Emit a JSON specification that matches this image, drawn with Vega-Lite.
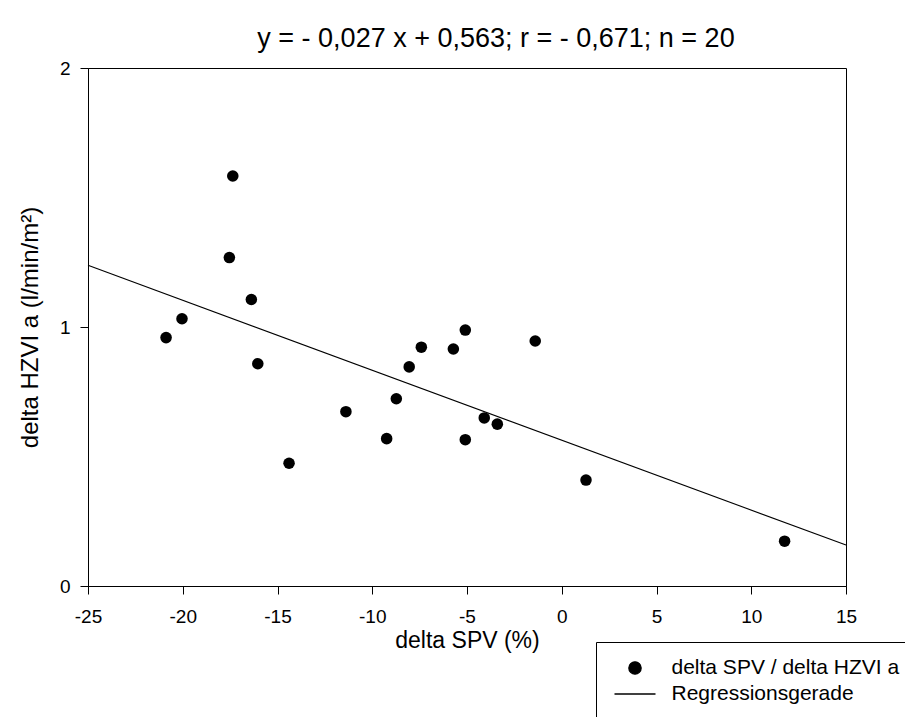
{
  "$schema": "https://vega.github.io/schema/vega-lite/v6.json",
  "width": 758,
  "height": 518,
  "autosize": {"type": "none"},
  "padding": {"left": 88, "top": 68, "right": 59, "bottom": 131},
  "background": "white",
  "title": {
    "text": "y = - 0,027 x + 0,563; r = - 0,671; n = 20",
    "font": "Liberation Sans",
    "fontSize": 27,
    "fontWeight": "normal",
    "color": "black",
    "anchor": "middle",
    "dx": 29,
    "offset": 6
  },
  "config": {
    "view": {"stroke": "black", "strokeWidth": 1},
    "axis": {
      "grid": false,
      "domainColor": "black",
      "tickColor": "black",
      "tickSize": 8,
      "labelFont": "Liberation Sans",
      "labelFontSize": 19,
      "labelColor": "black",
      "labelFlush": false,
      "labelExpr": "'' + datum.value",
      "titleFont": "Liberation Sans",
      "titleFontSize": 23,
      "titleFontWeight": "normal",
      "titleColor": "black"
    }
  },
  "datasets": {
    "messwerte": [
      {"spv": -20.88, "hzvi": 0.959, "reihe": "delta SPV / delta HZVI a"},
      {"spv": -20.04, "hzvi": 1.032, "reihe": "delta SPV / delta HZVI a"},
      {"spv": -17.36, "hzvi": 1.583, "reihe": "delta SPV / delta HZVI a"},
      {"spv": -17.54, "hzvi": 1.268, "reihe": "delta SPV / delta HZVI a"},
      {"spv": -16.38, "hzvi": 1.106, "reihe": "delta SPV / delta HZVI a"},
      {"spv": -16.04, "hzvi": 0.858, "reihe": "delta SPV / delta HZVI a"},
      {"spv": -14.39, "hzvi": 0.474, "reihe": "delta SPV / delta HZVI a"},
      {"spv": -11.39, "hzvi": 0.673, "reihe": "delta SPV / delta HZVI a"},
      {"spv": -9.24, "hzvi": 0.569, "reihe": "delta SPV / delta HZVI a"},
      {"spv": -8.73, "hzvi": 0.723, "reihe": "delta SPV / delta HZVI a"},
      {"spv": -8.05, "hzvi": 0.846, "reihe": "delta SPV / delta HZVI a"},
      {"spv": -7.41, "hzvi": 0.922, "reihe": "delta SPV / delta HZVI a"},
      {"spv": -5.72, "hzvi": 0.915, "reihe": "delta SPV / delta HZVI a"},
      {"spv": -5.09, "hzvi": 0.988, "reihe": "delta SPV / delta HZVI a"},
      {"spv": -5.09, "hzvi": 0.565, "reihe": "delta SPV / delta HZVI a"},
      {"spv": -4.09, "hzvi": 0.649, "reihe": "delta SPV / delta HZVI a"},
      {"spv": -3.40, "hzvi": 0.625, "reihe": "delta SPV / delta HZVI a"},
      {"spv": -1.40, "hzvi": 0.946, "reihe": "delta SPV / delta HZVI a"},
      {"spv": 1.28, "hzvi": 0.409, "reihe": "delta SPV / delta HZVI a"},
      {"spv": 11.76, "hzvi": 0.173, "reihe": "delta SPV / delta HZVI a"}
    ],
    "regression": [
      {"spv": -25, "hzvi": 1.238, "reihe": "Regressionsgerade"},
      {"spv": 15, "hzvi": 0.158, "reihe": "Regressionsgerade"}
    ]
  },
  "encoding": {
    "x": {
      "field": "spv",
      "type": "quantitative",
      "scale": {"domain": [-25, 15], "nice": false, "zero": false},
      "axis": {
        "title": "delta SPV (%)",
        "values": [-25, -20, -15, -10, -5, 0, 5, 10, 15],
        "labelPadding": 13,
        "titlePadding": 3
      }
    },
    "y": {
      "field": "hzvi",
      "type": "quantitative",
      "scale": {"domain": [0, 2], "nice": false},
      "axis": {
        "title": "delta HZVI a (l/min/m²)",
        "titleFontSize": 24,
        "values": [0, 1, 2],
        "labelPadding": 10,
        "titlePadding": 17
      }
    },
    "color": {
      "field": "reihe",
      "type": "nominal",
      "scale": {
        "domain": ["delta SPV / delta HZVI a", "Regressionsgerade"],
        "range": ["black", "black"]
      },
      "legend": {
        "title": null,
        "orient": "none",
        "legendX": 508,
        "legendY": 574,
        "padding": 13,
        "strokeColor": "black",
        "fillColor": "white",
        "cornerRadius": 0,
        "rowPadding": 0,
        "clipHeight": 26,
        "symbolSize": 1681,
        "symbolOffset": 4.5,
        "labelOffset": 15,
        "labelFont": "Liberation Sans",
        "labelFontSize": 21,
        "labelColor": "black",
        "labelLimit": 400,
        "encode": {
          "symbols": {
            "update": {
              "shape": {"signal": "datum.value === 'Regressionsgerade' ? 'stroke' : 'M -0.3,0 A 0.3,0.3 0 1,0 0.3,0 A 0.3,0.3 0 1,0 -0.3,0 Z'"},
              "size": {"value": 1681},
              "fill": {"signal": "datum.value === 'Regressionsgerade' ? 'transparent' : 'black'"},
              "stroke": {"value": "black"},
              "strokeWidth": {"value": 1.3},
              "opacity": {"value": 1}
            }
          }
        }
      }
    }
  },
  "layer": [
    {
      "data": {"name": "regression"},
      "mark": {"type": "line", "strokeWidth": 1.1}
    },
    {
      "data": {"name": "messwerte"},
      "mark": {"type": "point", "filled": true, "size": 133, "opacity": 1, "shape": "circle"}
    }
  ]
}
